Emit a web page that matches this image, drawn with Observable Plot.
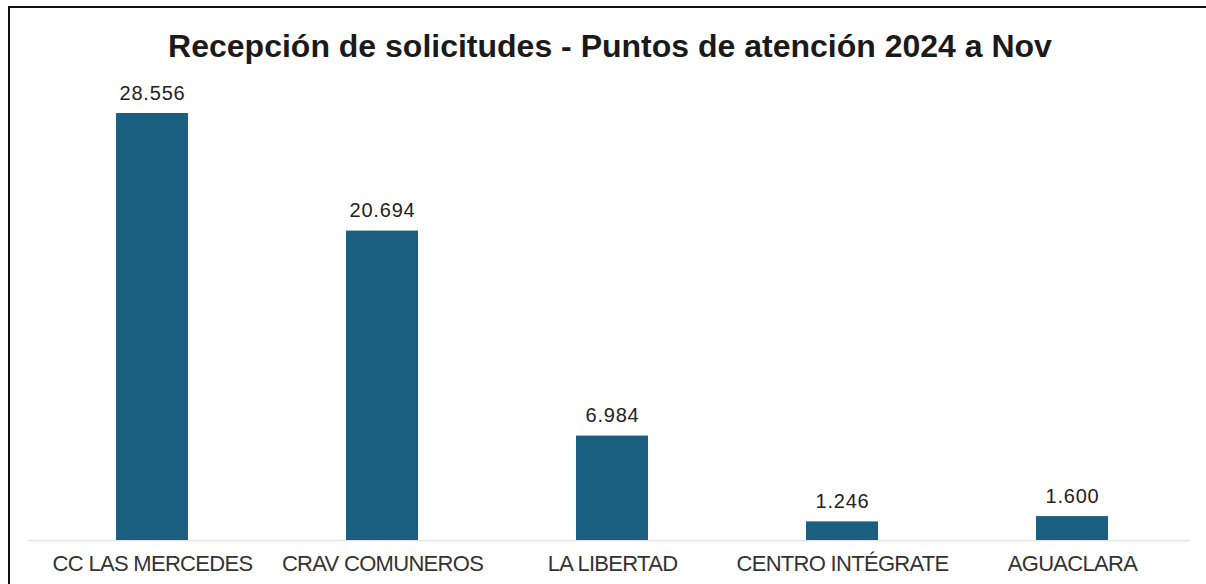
<!DOCTYPE html>
<html>
<head>
<meta charset="utf-8">
<script src="https://cdn.jsdelivr.net/npm/d3@7"></script>
<script src="https://cdn.jsdelivr.net/npm/@observablehq/plot@0.6"></script>
<style>
  html, body { margin: 0; padding: 0; background: #fff; overflow: hidden; }
  #wrap { position: relative; width: 1206px; height: 584px; overflow: hidden; font-family: "Liberation Sans", Arial, sans-serif; }
  #frame { position: absolute; left: 8px; top: 6px; width: 1198px; height: 578px; box-sizing: border-box; border-top: 2px solid #111; border-left: 2px solid #111; }
  #title { position: absolute; left: 14px; top: 0; width: 1192px; height: 80px; line-height: 92px; text-align: center; font-weight: bold; font-size: 32px; color: #1a1a1a; }
  #chart { position: absolute; left: 0; top: 80px; }
  #chart g[aria-label="x-axis tick label"] text { letter-spacing: -0.7px; }
  #chart g[aria-label="text"] text { letter-spacing: 0.8px; }
</style>
</head>
<body>
<div id="wrap">
  <div id="frame"></div>
  <div id="title">Recepción de solicitudes - Puntos de atención 2024 a Nov</div>
  <div id="chart"></div>
</div>
<script>
const categories = ["CC LAS MERCEDES", "CRAV COMUNEROS", "LA LIBERTAD", "CENTRO INTÉGRATE", "AGUACLARA"];
const values = [28556, 20694, 6984, 1246, 1600];
const valueLabels = ["28.556", "20.694", "6.984", "1.246", "1.600"];

const data = categories.map((c, i) => ({cat: c, v: values[i], lab: valueLabels[i]}));

const chart = Plot.plot({
  width: 1206,
  height: 504,
  marginTop: 33,
  marginBottom: 44,
  marginLeft: 46,
  marginRight: 28,
  style: {fontFamily: "'Liberation Sans', Arial, sans-serif", background: "transparent"},
  x: {domain: categories, paddingInner: 0.6876, paddingOuter: 0.3, label: null},
  y: {domain: [0, 28556], axis: null},
  marks: [
    Plot.ruleY([0], {stroke: "#e3e3e3", strokeWidth: 1.5, insetLeft: -18, insetRight: -12}),
    Plot.barY(data, {x: "cat", y: "v", fill: "#1a5e80"}),
    Plot.text(data, {x: "cat", y: "v", text: "lab", dy: -14, lineAnchor: "bottom", fontSize: 20, fill: "#222"}),
    Plot.axisX({tickSize: 0, tickPadding: 15, fontSize: 22, fill: "#333"})
  ]
});
document.getElementById("chart").appendChild(chart);
</script>
</body>
</html>
